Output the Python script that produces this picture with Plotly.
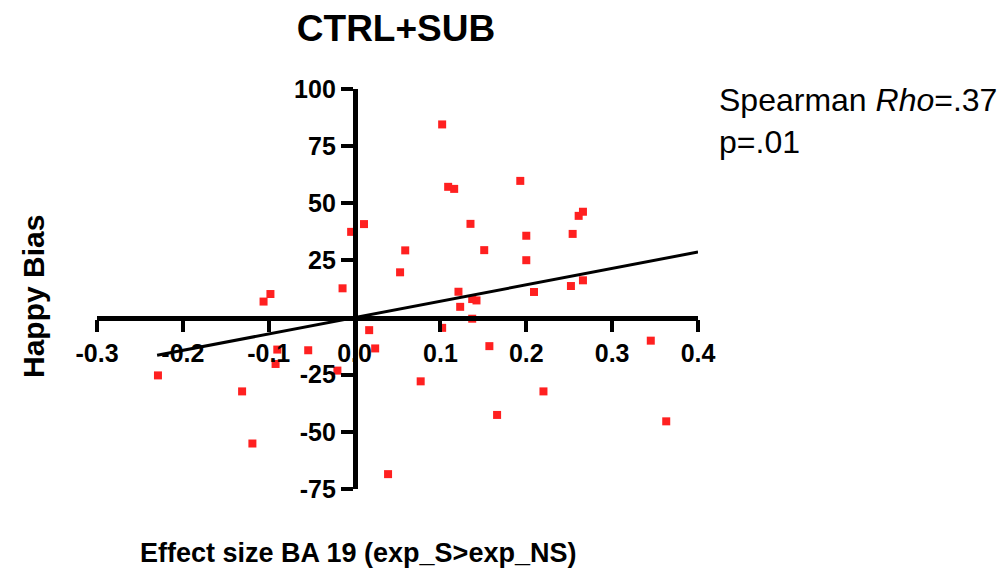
import plotly.graph_objects as go

# Effect size BA 19 (exp_S>exp_NS) vs. Happy Bias, CTRL+SUB group
effect_size = [
    0.011, -0.004, 0.059, 0.053, -0.014, -0.098, -0.106, 0.017,
    0.102, 0.109, 0.116, 0.193, 0.135, 0.266, 0.261, 0.200,
    0.254, 0.151, 0.200, 0.121, 0.209, 0.266, 0.252, 0.137,
    0.142, 0.123, 0.137, 0.102, 0.024, -0.054, -0.090, -0.092,
    -0.020, -0.229, -0.131, -0.119, 0.039, 0.157, 0.345, 0.077,
    0.220, 0.166, 0.363,
]
happy_bias = [
    40.9, 37.5, 29.4, 19.8, 12.8, 10.3, 7.0, -5.5,
    84.5, 57.2, 56.3, 59.8, 41.0, 46.3, 44.5, 35.8,
    36.6, 29.5, 25.1, 11.3, 11.2, 16.3, 13.8, 8.1,
    7.5, 4.7, -0.5, -4.5, -13.5, -14.3, -14.0, -20.3,
    -23.2, -25.3, -32.3, -55.1, -68.5, -12.5, -10.1, -27.9,
    -32.3, -42.6, -45.4,
]

# Linear fit line shown on the plot
fit_slope = 71.7
fit_intercept = 0.0
fit_x = [-0.23, 0.40]
fit_y = [fit_intercept + fit_slope * v for v in fit_x]

x_ticks = [-0.3, -0.2, -0.1, 0.0, 0.1, 0.2, 0.3, 0.4]
x_tick_text = ["-0.3", "-0.2", "-0.1", "0.0", "0.1", "0.2", "0.3", "0.4"]
y_ticks = [-75, -50, -25, 25, 50, 75, 100]
y_tick_text = ["-75", "-50", "-25", "25", "50", "75", "100"]

x_range = [-0.3, 0.4]
y_range = [-75, 100]

FONT = "Liberation Sans, Arial, Helvetica, sans-serif"

fig = go.Figure()
fig.add_trace(go.Scatter(
    x=effect_size, y=happy_bias, mode="markers",
    marker=dict(symbol="square", size=8, color="#ff2020", line=dict(width=0)),
    cliponaxis=False, showlegend=False,
))
fig.add_trace(go.Scatter(
    x=fit_x, y=fit_y, mode="lines",
    line=dict(color="black", width=3),
    cliponaxis=False, showlegend=False,
))

# Axes cross at the origin: place both as free axes at the zero position
x_zero_frac = (0 - x_range[0]) / (x_range[1] - x_range[0])
y_zero_frac = (0 - y_range[0]) / (y_range[1] - y_range[0])

axis_common = dict(
    showgrid=False, zeroline=False, showline=True, linecolor="black",
    linewidth=4.5, ticks="outside", tickwidth=4, tickcolor="black",
    ticklen=12, tickfont=dict(family=FONT, size=25, color="black", weight="bold"),
    anchor="free", fixedrange=True,
)

fig.update_layout(
    width=1008, height=584,
    margin=dict(l=97, r=310, t=89, b=95),
    paper_bgcolor="white", plot_bgcolor="white",
    xaxis=dict(range=x_range, tickvals=x_ticks, ticktext=x_tick_text,
               position=y_zero_frac, **axis_common),
    yaxis=dict(range=y_range, tickvals=y_ticks, ticktext=y_tick_text,
               position=x_zero_frac, **axis_common),
    title=dict(text="<b>CTRL+SUB</b>", x=396 / 1008, xanchor="center",
               y=1 - 28 / 584, yanchor="middle",
               font=dict(family=FONT, size=37, color="black")),
    annotations=[
        dict(text="<b>Effect size BA 19 (exp_S>exp_NS)</b>", xref="paper", yref="paper",
             x=(358 - 97) / (698 - 97), y=-(553 - 489) / (489 - 89),
             xanchor="center", yanchor="middle", showarrow=False,
             font=dict(family=FONT, size=27, color="black")),
        dict(text="<b>Happy Bias</b>", xref="paper", yref="paper",
             x=-(97 - 33) / (698 - 97), y=(489 - 297) / (489 - 89),
             xanchor="center", yanchor="middle", showarrow=False, textangle=-90,
             font=dict(family=FONT, size=30, color="black")),
        dict(text="Spearman <i>Rho</i>=.37<br>p=.01", xref="paper", yref="paper",
             x=(717 - 97) / (698 - 97), y=(489 - 80) / (489 - 89),
             xanchor="left", yanchor="top", align="left", showarrow=False,
             font=dict(family=FONT, size=32, color="black")),
    ],
)

fig.write_html("out.html")
